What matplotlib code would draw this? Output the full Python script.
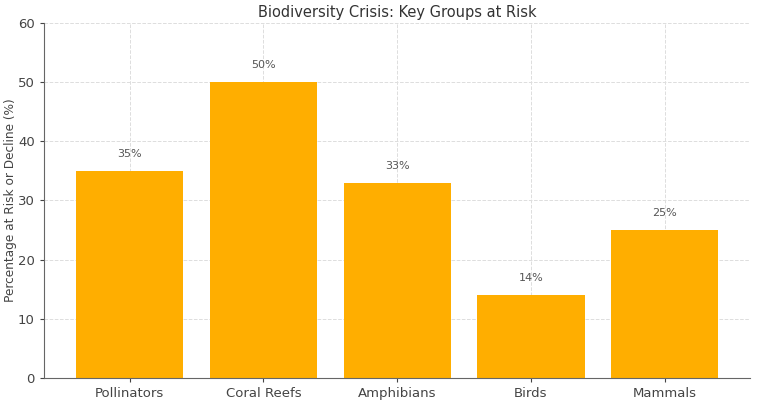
import matplotlib
matplotlib.use('Agg')
from matplotlib import pyplot as plt

groups = ['Pollinators', 'Coral Reefs', 'Amphibians', 'Birds', 'Mammals']
percent_at_risk = [35, 50, 33, 14, 25]
yticks = [0, 10, 20, 30, 40, 50, 60]

fig, ax = plt.subplots(figsize=(7.58, 4.0), dpi=100)
fig.subplots_adjust(left=0.058, right=0.99, bottom=0.055, top=0.943)

bars = ax.bar(groups, percent_at_risk, color='#FFAE00', width=0.8, zorder=2)

for b, v in zip(bars, percent_at_risk):
    ax.text(b.get_x() + b.get_width() / 2, v + 2, '%d%%' % v,
            ha='center', va='bottom', fontsize=8, color='#555555')

ax.set_ylim(0, 60)
ax.set_yticks(yticks)
ax.set_title('Biodiversity Crisis: Key Groups at Risk', fontsize=10.5, color='#333333', pad=4)
ax.set_ylabel('Percentage at Risk or Decline (%)', fontsize=8.7, color='#444444', labelpad=1)
ax.tick_params(colors='#444444', labelsize=9.5, length=3)
ax.grid(True, linestyle='--', color='#dddddd', linewidth=0.7, zorder=0)
ax.spines['top'].set_visible(False)
ax.spines['right'].set_visible(False)
for s in ['left', 'bottom']:
    ax.spines[s].set_color('#666666')

fig.savefig('out.png')
